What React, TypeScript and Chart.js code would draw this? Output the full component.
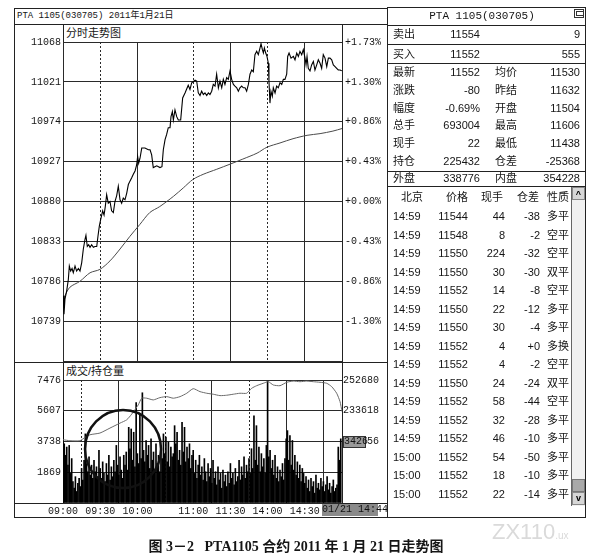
import React, { useEffect, useRef } from 'react';
import { Chart, registerables } from 'chart.js';

Chart.register(...registerables);

const MONO = '"Liberation Mono", "Noto Sans CJK SC", monospace';
const SANS = '"Liberation Sans", "Noto Sans CJK SC", sans-serif';
const SERIF = '"Liberation Serif", "Noto Sans CJK SC", serif';
const INK = '#151515';

// ---- time axis: trading minutes since 09:00 (breaks removed) ----
const TIME_TICKS = [0, 30, 60, 105, 135, 165, 195];
const TIME_LABELS = ['09:00', '09:30', '10:00', '11:00', '11:30', '14:00', '14:30'];
const DOTTED_TICKS = [30, 105, 165];
const SESSION_END = 225;

// ---- price panel ----
const PRICE_TICKS = [10692, 10739, 10786, 10833, 10880, 10927, 10974, 11021, 11068];
const PRICE_LABELS = ['', '10739', '10786', '10833', '10880', '10927', '10974', '11021', '11068'];
const PCT_LABELS = ['', '-1.30%', '-0.86%', '-0.43%', '+0.00%', '+0.43%', '+0.86%', '+1.30%', '+1.73%'];

const PRICE: [number, number][] = [
  [0, 10769], [0.8, 10747], [1.6, 10765], [3, 10775], [4.3, 10788], [5.1, 10804], [6.2, 10798], [7.3, 10801],
  [8.3, 10796], [9.7, 10804], [11, 10798], [12.4, 10801], [13.7, 10798], [15.1, 10808], [16.4, 10824], [17.7, 10835],
  [18.5, 10840], [19.6, 10827], [20.7, 10829], [21.8, 10826], [23.1, 10829], [24.5, 10826], [25.8, 10827], [27.2, 10827],
  [28.2, 10839], [29.3, 10851], [30.4, 10859], [32, 10869], [33.1, 10864], [34.1, 10874], [35.2, 10888], [36.5, 10878],
  [37.9, 10880], [39.2, 10869], [40.6, 10867], [41.9, 10880], [43.3, 10887], [44.6, 10898], [46, 10882], [47.3, 10878],
  [48.6, 10884], [50, 10882], [51.4, 10890], [52.7, 10900], [54, 10904], [55.4, 10908], [56.7, 10912], [58.1, 10916],
  [59.4, 10923], [60.2, 10933], [61, 10925], [62.1, 10931], [63.5, 10943], [66.1, 10943], [68.8, 10941], [70.2, 10941],
  [71.5, 10935], [72.8, 10920], [75.6, 10922], [78.2, 10920], [79.8, 10921], [80.9, 10941], [82.3, 10953], [83.6, 10959],
  [84.9, 10967], [86.3, 10967], [87.1, 10980], [88.2, 10986], [89, 10976], [90.3, 10988], [91.7, 10980], [93, 10976],
  [94.9, 10976], [96.5, 11002], [98.4, 11008], [101, 11017], [102.4, 11012], [103.8, 11020], [106.5, 11023], [107.8, 11022],
  [109.1, 11008], [110.5, 11005], [111.8, 11010], [113.2, 11006], [114.5, 11008], [115.9, 11005], [117.2, 11008], [118.5, 11006],
  [119.9, 11010], [121.2, 11018], [122.6, 11016], [123.9, 11030], [125.3, 11014], [126.6, 11022], [128, 11014], [129.3, 11024],
  [130.6, 11018], [132, 11026], [133.3, 11024], [134.7, 11034], [136, 11024], [137.4, 11018], [138.7, 11016], [140.1, 11014],
  [141.4, 11010], [142.7, 11014], [144.1, 11016], [145.4, 11014], [146.8, 11014], [148.1, 11010], [149.5, 11018], [150.8, 11030],
  [152.2, 11035], [153.5, 11033], [154.8, 11053], [156.2, 11057], [157.5, 11053], [158.9, 11061], [159.7, 11066], [160.8, 11059],
  [161.6, 11055], [162.4, 11061], [163.5, 11055], [164.5, 11051], [165.6, 11043], [166.1, 11022], [166.9, 10996], [167.7, 11010],
  [168.8, 11004], [169.6, 11014], [171, 11008], [172.3, 11016], [173.6, 11014], [175, 11020], [176.4, 11018], [177.7, 11024],
  [179, 11024], [180.4, 11030], [181.2, 11051], [182.3, 11055], [183.9, 11049], [185.8, 11051], [187.1, 11047], [188.5, 11055],
  [189.8, 11051], [191.1, 11057], [192.5, 11053], [193.8, 11059], [195.2, 11049], [196, 11041], [196.8, 11051], [197.8, 11037],
  [199.2, 11034], [200.5, 11041], [201.9, 11045], [203.2, 11035], [204.6, 11041], [205.9, 11047], [207.3, 11043], [208.6, 11037],
  [209.9, 11053], [211.3, 11049], [212.7, 11039], [214, 11049], [215.3, 11049], [216.7, 11047], [218, 11041], [219.4, 11039],
  [220.7, 11037], [222, 11035], [223.4, 11035], [224.8, 11034],
];

const AVG_PRICE: [number, number][] = [
  [0, 10762], [1.6, 10769], [5.6, 10779], [13.7, 10786], [21.8, 10796], [29.8, 10800], [37.9, 10810], [46, 10824],
  [54, 10839], [62, 10853], [70, 10867], [78, 10874], [89, 10886], [97, 10896], [104.8, 10906], [113, 10912],
  [124, 10918], [134.7, 10924], [145, 10930], [156.5, 10937], [164.5, 10944], [175, 10949], [185.5, 10954],
  [196.8, 10958], [207.3, 10960], [217.7, 10963], [225, 10966],
];

// ---- volume / open interest panel ----
const VOL_TICKS = [0, 1869, 3738, 5607, 7476];
const VOL_LABELS = ['', '1869', '3738', '5607', '7476'];
const OI_TICKS = [176432, 195494, 214556, 233618, 252680];
const OI_LABELS = ['', '', '214556', '233618', '252680'];

const VOLUME = [
  5500, 3600, 2900, 3400, 2300, 3500, 1800, 2700, 1300, 900, 1600, 700, 1200, 1500, 1000,
  2100, 1400, 2600, 4200, 2400, 1900, 2800, 1700, 2300, 1500, 2600, 1900, 2200, 1600, 3200,
  2100, 1500, 2500, 1800, 1300, 2400, 1700, 2900, 1400, 2200, 1600, 2600, 1900, 3500, 2300,
  1700, 2800, 2000, 1500, 2900, 2300, 3100, 2000, 4600, 3300, 4500, 2600, 4300, 2200, 6100,
  3000, 2400, 5400, 2700, 6700, 3200, 2500, 3800, 2900, 3500, 2100, 3900, 2600, 3100, 2000,
  3600, 2400, 2900, 1900, 3300, 2700, 4200, 3000, 4000, 2500, 3700, 2200, 3400, 2800, 3000,
  4700, 3600, 4300, 2600, 3200, 2300, 4900, 3100, 4600, 2500, 3400, 2700, 3600, 2100, 2900,
  3200, 1800, 2600, 1500, 2300, 2900, 1700, 2200, 1400, 2700, 1900, 1300, 2400, 1600, 2100,
  1200, 2600, 1500, 1900, 1100, 2200, 1400, 1800, 900, 2000, 1300, 1700, 1000, 1900, 1200,
  2400, 1500, 1800, 1100, 2100, 1300, 1600, 2600, 1400, 2200, 1700, 2800, 1500, 2300, 1900,
  2700, 1800, 3300, 2100, 5300, 2600, 4700, 2300, 3400, 1900, 3000, 2200, 2700, 1800, 3500,
  7400, 2800, 3200, 2100, 2600, 1700, 2900, 1500, 2200, 1300, 2000, 1600, 2400, 1400, 2700,
  3900, 4400, 2600, 4100, 2300, 3800, 2000, 2900, 1700, 2500, 1500, 2300, 1300, 2100, 1800,
  1200, 1600, 900, 1400, 700, 1500, 1000, 1300, 600, 1700, 900, 1200, 800, 1500, 1000,
  1300, 700, 1100, 1600, 800, 1200, 600, 1000, 1400, 700, 900, 1100, 3400, 2600, 3900,
];

const OPEN_INT: [number, number][] = [
  [0, 215660], [5.6, 215040], [13.7, 215040], [17.7, 217080], [21.8, 218750], [29.8, 219800], [37.9, 222880],
  [46, 225970], [51.4, 228000], [55.4, 231520], [58.9, 235220], [60.7, 237260], [63.5, 241390], [67.5, 241390],
  [72.8, 240340], [78.2, 241760], [83.6, 242380], [89, 241390], [94.4, 242380], [99.8, 244470], [105, 247300],
  [110.5, 245460], [115.9, 244470], [121.2, 243860], [126.6, 243000], [132, 243240], [137.3, 243860], [142.7, 244470],
  [148.1, 244470], [152.2, 247560], [156.2, 249160], [161.5, 250640], [165.6, 251630], [169.6, 249590], [175, 249160],
  [180.4, 251260], [185.7, 252000], [191.1, 251630], [196.5, 252000], [201.9, 251630], [207.3, 251260], [212.7, 250640],
  [216.7, 248550], [220.7, 244470], [223.4, 239300], [225, 233120],
];

const MARK_MINUTE = 48.4;
const MARK_VOLUME = 3280;

// ---- quote panel ----
const BOOK_ROWS = [
  ['卖出', '11554', '9'],
  ['买入', '11552', '555'],
];
const QUOTE_ROWS = [
  ['最新', '11552', '均价', '11530'],
  ['涨跌', '-80', '昨结', '11632'],
  ['幅度', '-0.69%', '开盘', '11504'],
  ['总手', '693004', '最高', '11606'],
  ['现手', '22', '最低', '11438'],
  ['持仓', '225432', '仓差', '-25368'],
];
const SIDE_ROW = ['外盘', '338776', '内盘', '354228'];
const TRADE_HEAD = ['北京', '价格', '现手', '仓差', '性质'];
const TRADE_TIMES = ['14:59', '14:59', '14:59', '14:59', '14:59', '14:59', '14:59', '14:59', '14:59', '14:59', '14:59', '14:59', '14:59', '15:00', '15:00', '15:00'];
const TRADE_PRICES = ['11544', '11548', '11550', '11550', '11552', '11550', '11550', '11552', '11552', '11550', '11552', '11552', '11552', '11552', '11552', '11552'];
const TRADE_VOLS = ['44', '8', '224', '30', '14', '22', '30', '4', '4', '24', '58', '32', '46', '54', '18', '22'];
const TRADE_OI = ['-38', '-2', '-32', '-30', '-8', '-12', '-4', '+0', '-2', '-24', '-44', '-28', '-10', '-50', '-10', '-14'];
const TRADE_TYPES = ['多平', '空平', '空平', '双平', '空平', '多平', '多平', '多换', '空平', '双平', '空平', '多平', '多平', '多平', '多平', '多平'];

type TP = { x: number; y: number; a?: 'l' | 'r' | 'c'; s?: number; f?: string; b?: boolean; c?: string; children: React.ReactNode };
function T({ x, y, a = 'l', s = 11, f = SANS, b, c = INK, children }: TP) {
  const tx = a === 'l' ? '0' : a === 'r' ? '-100%' : '-50%';
  return (
    <div style={{ position: 'absolute', left: x, top: y, transform: `translate(${tx}, -50%)`, fontSize: s, fontFamily: f, lineHeight: 1, whiteSpace: 'pre', color: c, fontWeight: b ? 700 : 400 }}>
      {children}
    </div>
  );
}
const HL = ({ x, y, w, c = '#222' }: { x: number; y: number; w: number; c?: string }) => (
  <div style={{ position: 'absolute', left: x, top: y, width: w, height: 1, background: c }} />
);
const VL = ({ x, y, h, c = '#222' }: { x: number; y: number; h: number; c?: string }) => (
  <div style={{ position: 'absolute', left: x, top: y, width: 1, height: h, background: c }} />
);

const tickFont = { family: MONO, size: 10 };
const gridX = (ticks: number[]) => ({
  type: 'linear' as const,
  min: 0,
  max: SESSION_END,
  afterBuildTicks: (s: any) => { s.ticks = ticks.map((v) => ({ value: v })); },
  grid: { color: '#2a2a2a', lineWidth: 1, drawTicks: false },
  border: { display: false, dash: (c: any) => (c.tick && DOTTED_TICKS.includes(c.tick.value) ? [2, 2] : []) },
});

export default function App() {
  const priceRef = useRef<HTMLCanvasElement>(null);
  const volRef = useRef<HTMLCanvasElement>(null);

  useEffect(() => {
    const pc = new Chart(priceRef.current!, {
      type: 'line',
      data: {
        datasets: [
          { data: PRICE.map(([x, y]) => ({ x, y })), borderColor: '#000', borderWidth: 1.1, pointRadius: 0, tension: 0 },
          { data: AVG_PRICE.map(([x, y]) => ({ x, y })), borderColor: '#4a4a4a', borderWidth: 1, pointRadius: 0, tension: 0.3 },
        ],
      },
      options: {
        animation: false,
        responsive: false,
        layout: { padding: { top: 18, bottom: 8, left: 0, right: 0 } },
        plugins: { legend: { display: false }, tooltip: { enabled: false } },
        scales: {
          x: { ...gridX(TIME_TICKS), ticks: { display: false }, afterFit: (s: any) => { s.height = 0; } },
          y: {
            min: PRICE_TICKS[0], max: PRICE_TICKS[PRICE_TICKS.length - 1], position: 'left',
            afterBuildTicks: (s: any) => { s.ticks = PRICE_TICKS.map((v) => ({ value: v })); },
            afterFit: (s: any) => { s.width = 49; },
            ticks: { callback: (_v: any, i: number) => PRICE_LABELS[i], font: tickFont, color: INK, padding: 2 },
            grid: { color: '#2a2a2a', lineWidth: 1, drawTicks: false },
            border: { display: false },
          },
          y2: {
            min: PRICE_TICKS[0], max: PRICE_TICKS[PRICE_TICKS.length - 1], position: 'right',
            afterBuildTicks: (s: any) => { s.ticks = PRICE_TICKS.map((v) => ({ value: v })); },
            afterFit: (s: any) => { s.width = 45; },
            ticks: { callback: (_v: any, i: number) => PCT_LABELS[i], font: tickFont, color: INK, padding: 3 },
            grid: { drawOnChartArea: false, drawTicks: false },
            border: { display: false },
          },
        },
      } as any,
    });

    const circlePlugin = {
      id: 'circleMark',
      afterDatasetsDraw(chart: any) {
        const { ctx, scales } = chart;
        const cx = scales.x.getPixelForValue(MARK_MINUTE);
        const cy = scales.y.getPixelForValue(MARK_VOLUME);
        ctx.save();
        ctx.beginPath();
        ctx.ellipse(cx, cy, 38, 39, 0, 0, Math.PI * 2);
        ctx.lineWidth = 2.5;
        ctx.strokeStyle = '#111';
        ctx.stroke();
        ctx.restore();
      },
    };

    const vc = new Chart(volRef.current!, {
      type: 'bar',
      data: {
        datasets: [
          { type: 'line', yAxisID: 'y2', data: OPEN_INT.map(([x, y]) => ({ x, y })), borderColor: '#6a6a6a', borderWidth: 1, pointRadius: 0, tension: 0.2 } as any,
          { type: 'bar', yAxisID: 'y', data: VOLUME.map((v, i) => ({ x: i, y: v })), backgroundColor: '#000', barThickness: 1, grouped: false } as any,
        ],
      },
      options: {
        animation: false,
        responsive: false,
        layout: { padding: { top: 18, bottom: 0, left: 0, right: 0 } },
        plugins: { legend: { display: false }, tooltip: { enabled: false } },
        scales: {
          x: {
            ...gridX(TIME_TICKS),
            offset: false,
            afterFit: (s: any) => { s.height = 14; },
            ticks: { callback: (_v: any, i: number) => TIME_LABELS[i], font: tickFont, color: INK, padding: 2, maxRotation: 0, autoSkip: false },
          },
          y: {
            min: 0, max: VOL_TICKS[VOL_TICKS.length - 1], position: 'left',
            afterBuildTicks: (s: any) => { s.ticks = VOL_TICKS.map((v) => ({ value: v })); },
            afterFit: (s: any) => { s.width = 49; },
            ticks: { callback: (_v: any, i: number) => VOL_LABELS[i], font: tickFont, color: INK, padding: 2 },
            grid: { color: '#2a2a2a', lineWidth: 1, drawTicks: false },
            border: { display: false },
          },
          y2: {
            min: OI_TICKS[0], max: OI_TICKS[OI_TICKS.length - 1], position: 'right',
            afterBuildTicks: (s: any) => { s.ticks = OI_TICKS.map((v) => ({ value: v })); },
            afterFit: (s: any) => { s.width = 45; },
            ticks: { callback: (_v: any, i: number) => OI_LABELS[i], font: tickFont, color: INK, padding: 1 },
            grid: { drawOnChartArea: false, drawTicks: false },
            border: { display: false },
          },
        },
      } as any,
      plugins: [circlePlugin],
    });

    return () => { pc.destroy(); vc.destroy(); };
  }, []);

  const tradeY = (i: number) => 216 + i * 18.53;

  return (
    <div style={{ position: 'absolute', left: 0, top: 0, width: 593, height: 558, background: '#fff', overflow: 'hidden' }}>
      {/* left chart frame */}
      <div style={{ position: 'absolute', left: 14, top: 8, width: 374, height: 510, border: '1px solid #222', boxSizing: 'border-box' }} />
      <T x={17} y={16} s={9} f={MONO}>PTA 1105(030705) 2011年1月21日</T>
      <HL x={14} y={24} w={373} />
      <VL x={63} y={24} h={479} />
      <VL x={342} y={24} h={479} />
      <HL x={14} y={362} w={373} />
      <HL x={14} y={503} w={373} />
      <T x={66} y={33} s={11} f={SANS}>分时走势图</T>
      <T x={66} y={371} s={11} f={SANS}>成交/持仓量</T>

      <canvas ref={priceRef} width={373} height={346} style={{ position: 'absolute', left: 14, top: 24 }} />
      <canvas ref={volRef} width={373} height={155} style={{ position: 'absolute', left: 14, top: 362 }} />

      <div style={{ position: 'absolute', left: 343, top: 436, width: 23, height: 12, background: '#9a9a9a', border: '1px solid #333', boxSizing: 'border-box', fontFamily: MONO, fontSize: 10, lineHeight: '10px', color: '#111', textAlign: 'center' }}>3426</div>
      <div style={{ position: 'absolute', left: 322, top: 504, width: 56, height: 12, background: '#8a8a8a', fontFamily: MONO, fontSize: 10, lineHeight: '12px', color: '#111', textAlign: 'center', whiteSpace: 'pre' }}>01/21 14:44</div>

      {/* right quote panel */}
      <div style={{ position: 'absolute', left: 387, top: 7, width: 199, height: 511, border: '1px solid #222', boxSizing: 'border-box' }} />
      <T x={482} y={16} a="c" s={11} f={MONO}>PTA 1105(030705)</T>
      <div style={{ position: 'absolute', left: 574, top: 9, width: 10, height: 9, border: '1px solid #333', boxSizing: 'border-box' }}>
        <div style={{ position: 'absolute', left: 1, top: 1, width: 6, height: 3, border: '1px solid #333' }} />
      </div>
      <HL x={387} y={25} w={199} />
      <HL x={387} y={44} w={199} />
      <HL x={387} y={63} w={199} />
      <HL x={387} y={171} w={199} />
      <HL x={387} y={186} w={199} />
      {BOOK_ROWS.map((r, i) => (
        <React.Fragment key={'b' + i}>
          <T x={393} y={34 + i * 20}>{r[0]}</T>
          <T x={480} y={34 + i * 20} a="r">{r[1]}</T>
          <T x={580} y={34 + i * 20} a="r">{r[2]}</T>
        </React.Fragment>
      ))}
      {QUOTE_ROWS.map((r, i) => (
        <React.Fragment key={'q' + i}>
          <T x={393} y={72 + i * 17.8}>{r[0]}</T>
          <T x={480} y={72 + i * 17.8} a="r">{r[1]}</T>
          <T x={495} y={72 + i * 17.8}>{r[2]}</T>
          <T x={580} y={72 + i * 17.8} a="r">{r[3]}</T>
        </React.Fragment>
      ))}
      <T x={393} y={178}>{SIDE_ROW[0]}</T>
      <T x={480} y={178} a="r">{SIDE_ROW[1]}</T>
      <T x={495} y={178}>{SIDE_ROW[2]}</T>
      <T x={580} y={178} a="r">{SIDE_ROW[3]}</T>

      <T x={401} y={197}>{TRADE_HEAD[0]}</T>
      <T x={468} y={197} a="r">{TRADE_HEAD[1]}</T>
      <T x={503} y={197} a="r">{TRADE_HEAD[2]}</T>
      <T x={539} y={197} a="r">{TRADE_HEAD[3]}</T>
      <T x={547} y={197}>{TRADE_HEAD[4]}</T>
      {TRADE_TIMES.map((t, i) => (
        <React.Fragment key={'t' + i}>
          <T x={393} y={tradeY(i)}>{t}</T>
          <T x={468} y={tradeY(i)} a="r">{TRADE_PRICES[i]}</T>
          <T x={505} y={tradeY(i)} a="r">{TRADE_VOLS[i]}</T>
          <T x={540} y={tradeY(i)} a="r">{TRADE_OI[i]}</T>
          <T x={547} y={tradeY(i)}>{TRADE_TYPES[i]}</T>
        </React.Fragment>
      ))}
      {/* scrollbar */}
      <div style={{ position: 'absolute', left: 571, top: 187, width: 14, height: 319, background: '#f1f1f1', borderLeft: '1px solid #666', boxSizing: 'border-box' }} />
      <div style={{ position: 'absolute', left: 572, top: 187, width: 13, height: 13, background: '#d6d6d6', border: '1px solid #888', boxSizing: 'border-box', fontSize: 9, lineHeight: '12px', textAlign: 'center', fontFamily: SANS, fontWeight: 700 }}>^</div>
      <div style={{ position: 'absolute', left: 572, top: 479, width: 13, height: 13, background: '#a9a9a9', border: '1px solid #777', boxSizing: 'border-box' }} />
      <div style={{ position: 'absolute', left: 572, top: 492, width: 13, height: 13, background: '#d6d6d6', border: '1px solid #888', boxSizing: 'border-box', fontSize: 9, lineHeight: '10px', textAlign: 'center', fontFamily: SANS, fontWeight: 700 }}>v</div>

      {/* caption and watermark */}
      <T x={492} y={532} s={22} f={SANS} c="#dadada">ZX110<span style={{ fontSize: 10 }}>.ux</span></T>
      <T x={296} y={547} a="c" s={14} f={SERIF} b>{'图 3－2   PTA1105 合约 2011 年 1 月 21 日走势图'}</T>
    </div>
  );
}
